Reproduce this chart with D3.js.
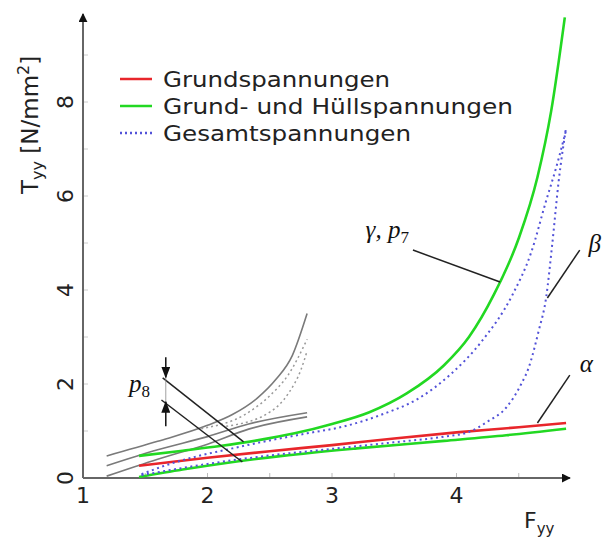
<!DOCTYPE html>
<html>
<head>
<meta charset="utf-8">
<script src="https://cdn.jsdelivr.net/npm/d3@7"></script>
<style>
  body { margin: 0; background: #fff; }
  svg { display: block; }
</style>
</head>
<body>
<svg id="chart" width="603" height="538"></svg>
<script>
// ---- Kurvendaten: Fyy (x) und Tyy in N/mm² (y) ----
// Fall gamma, p7: Grund- und Hüllspannungen
const gammaHuellX = [1.45, 1.8, 2.1, 2.4, 2.7, 3.0, 3.3, 3.6, 3.9, 4.1, 4.3, 4.5, 4.65, 4.76, 4.87];
const gammaHuellY = [0.47, 0.58, 0.68, 0.8, 0.95, 1.15, 1.4, 1.8, 2.4, 3.0, 3.9, 5.1, 6.4, 7.8, 9.8];
// Fall gamma: Gesamtspannungen
const gammaGesamtX = [1.47, 1.7, 1.9, 2.2, 2.5, 2.8, 3.1, 3.4, 3.7, 3.95, 4.2, 4.45, 4.6, 4.72, 4.8, 4.88];
const gammaGesamtY = [0.08, 0.3, 0.45, 0.63, 0.8, 0.95, 1.1, 1.35, 1.7, 2.2, 2.9, 3.9, 4.8, 5.9, 6.6, 7.4];
// Fall alpha: Grundspannungen
const alphaGrundX = [1.45, 2.0, 2.5, 3.0, 3.5, 4.0, 4.5, 4.88];
const alphaGrundY = [0.26, 0.43, 0.57, 0.7, 0.84, 0.97, 1.08, 1.17];
// Fall alpha: Grund- und Hüllspannungen
const alphaHuellX = [1.45, 1.8, 2.15, 2.6, 3.2, 3.9, 4.4, 4.88];
const alphaHuellY = [0.02, 0.18, 0.32, 0.47, 0.63, 0.79, 0.91, 1.05];
// Fall beta: Gesamtspannungen
const betaGesamtX = [1.47, 2.0, 2.5, 3.0, 3.5, 3.9, 4.1, 4.25, 4.4, 4.52, 4.58, 4.66, 4.72, 4.77, 4.82, 4.88];
const betaGesamtY = [0.06, 0.3, 0.48, 0.62, 0.76, 0.88, 0.98, 1.2, 1.5, 2.0, 2.35, 3.13, 3.84, 5.0, 6.3, 7.45];
// Fall p8 (grau)
const p8ObenX = [1.19, 1.6, 2.0, 2.2, 2.4, 2.55, 2.68, 2.8];
const p8ObenY = [0.47, 0.78, 1.12, 1.35, 1.7, 2.1, 2.6, 3.5];
const p8MitteX = [1.19, 1.6, 2.0, 2.33, 2.8];
const p8MitteY = [0.26, 0.6, 0.88, 1.15, 1.39];
const p8UntenX = [1.19, 1.6, 2.0, 2.33, 2.8];
const p8UntenY = [0.04, 0.4, 0.72, 1.04, 1.3];
const p8Gesamt1X = [1.95, 2.3, 2.5, 2.65, 2.8];
const p8Gesamt1Y = [1.05, 1.35, 1.75, 2.2, 2.95];
const p8Gesamt2X = [2.15, 2.5, 2.65, 2.75, 2.8];
const p8Gesamt2Y = [1.1, 1.4, 1.8, 2.3, 2.7];

// Achsenbeschriftung
const xTicks = [1, 2, 3, 4];
const yTicks = [0, 2, 4, 6, 8];
const legendLabels = ["Grundspannungen", "Grund- und Hüllspannungen", "Gesamtspannungen"];

const zip = (xs, ys) => xs.map((x, i) => [x, ys[i]]);

const svg = d3.select("#chart");
const x = d3.scaleLinear().domain([1, 4]).range([83, 456.5]);
const y = d3.scaleLinear().domain([0, 8]).range([478, 102]);

const colRed = "#e8262b", colGreen = "#22d822", colBlue = "#5252d8", colGray = "#7a7a7a";
const sans = "'DejaVu Sans', Verdana, sans-serif";
const serif = "'Liberation Serif', 'DejaVu Serif', serif";

const line = d3.line().x(d => x(d[0])).y(d => y(d[1])).curve(d3.curveMonotoneX);

// ---- Achsen ----
const axisCol = "#666";
svg.append("defs").html(
  '<marker id="arr" viewBox="0 0 10 10" refX="9" refY="5" markerWidth="12" markerHeight="9" orient="auto" markerUnits="userSpaceOnUse" preserveAspectRatio="none">' +
  '<path d="M0,0 L10,5 L0,10 Z" fill="#111"/></marker>' +
  '<marker id="arrS" viewBox="0 0 10 10" refX="9" refY="5" markerWidth="9" markerHeight="9" orient="auto" markerUnits="userSpaceOnUse">' +
  '<path d="M0,0 L10,5 L0,10 Z" fill="#111"/></marker>');

// Hilfsstriche (nach innen)
const xMinor = d3.range(1.5, 5, 0.5);
svg.append("g").selectAll("line").data(xMinor).join("line")
  .attr("x1", d => x(d)).attr("x2", d => x(d))
  .attr("y1", y(0)).attr("y2", y(0) - 5)
  .attr("stroke", "#bbb").attr("stroke-width", 1);
const yMinor = d3.range(1, 10, 1);
svg.append("g").selectAll("line").data(yMinor).join("line")
  .attr("x1", x(1)).attr("x2", x(1) + 5)
  .attr("y1", d => y(d)).attr("y2", d => y(d))
  .attr("stroke", "#ccc").attr("stroke-width", 1);

svg.append("line").attr("x1", x(1)).attr("y1", y(0)).attr("x2", 570).attr("y2", y(0))
  .attr("stroke", axisCol).attr("stroke-width", 2).attr("marker-end", "url(#arrS)");
svg.append("line").attr("x1", x(1)).attr("y1", y(0)).attr("x2", x(1)).attr("y2", 14)
  .attr("stroke", axisCol).attr("stroke-width", 2).attr("marker-end", "url(#arrS)");

// Ticklabels
svg.append("g").selectAll("text").data(xTicks).join("text")
  .attr("x", d => x(d)).attr("y", 503)
  .attr("text-anchor", "middle").attr("font-family", sans).attr("font-size", 22)
  .attr("fill", "#222").text(d => d);
svg.append("g").selectAll("text").data(yTicks).join("text")
  .attr("transform", d => `translate(73,${y(d)}) rotate(-90)`)
  .attr("text-anchor", "middle").attr("font-family", sans).attr("font-size", 22)
  .attr("fill", "#222").text(d => d);

// Achsentitel
const yt = svg.append("text").attr("transform", "translate(38,194) rotate(-90)")
  .attr("font-family", sans).attr("font-size", 23).attr("fill", "#222");
yt.append("tspan").text("T");
yt.append("tspan").attr("font-size", 16).attr("dy", 5).text("yy");
yt.append("tspan").attr("dy", -5).text(" [N/mm");
yt.append("tspan").attr("font-size", 16).attr("dy", -9).text("2");
yt.append("tspan").attr("dy", 9).text("]");

const xt = svg.append("text").attr("x", 524).attr("y", 528)
  .attr("font-family", sans).attr("font-size", 22).attr("fill", "#222");
xt.append("tspan").text("F");
xt.append("tspan").attr("font-size", 15).attr("dy", 6).text("yy");

// ---- Kurven p8 (grau) ----
[[p8ObenX, p8ObenY], [p8MitteX, p8MitteY], [p8UntenX, p8UntenY]].forEach(([xs, ys]) => {
  svg.append("path").datum(zip(xs, ys)).attr("d", line)
    .attr("fill", "none").attr("stroke", colGray).attr("stroke-width", 1.6);
});
[[p8Gesamt1X, p8Gesamt1Y], [p8Gesamt2X, p8Gesamt2Y]].forEach(([xs, ys]) => {
  svg.append("path").datum(zip(xs, ys)).attr("d", line)
    .attr("fill", "none").attr("stroke", "#9a9a9a").attr("stroke-width", 1.5)
    .attr("stroke-dasharray", "2,3");
});

// ---- Hauptkurven ----
const solid = [
  [alphaHuellX, alphaHuellY, colGreen],
  [alphaGrundX, alphaGrundY, colRed],
  [gammaHuellX, gammaHuellY, colGreen]
];
solid.forEach(([xs, ys, c]) => {
  svg.append("path").datum(zip(xs, ys)).attr("d", line)
    .attr("fill", "none").attr("stroke", c).attr("stroke-width", 2.6);
});
[[gammaGesamtX, gammaGesamtY], [betaGesamtX, betaGesamtY]].forEach(([xs, ys]) => {
  svg.append("path").datum(zip(xs, ys)).attr("d", line)
    .attr("fill", "none").attr("stroke", colBlue).attr("stroke-width", 2)
    .attr("stroke-dasharray", "2,3.5");
});

// ---- Legende ----
const legendColors = [colRed, colGreen, colBlue];
const legendDash = [null, null, "2,3"];
const legendWidths = [227, 350, 248];
const lg = svg.append("g");
legendLabels.forEach((t, i) => {
  const ly = 79 + i * 27;
  lg.append("line").attr("x1", 120).attr("x2", 152).attr("y1", ly).attr("y2", ly)
    .attr("stroke", legendColors[i]).attr("stroke-width", 2.5)
    .attr("stroke-dasharray", legendDash[i]);
  lg.append("text").attr("x", 163).attr("y", ly + 7.5)
    .attr("font-family", sans).attr("font-size", 22).attr("fill", "#222")
    .attr("textLength", legendWidths[i]).attr("lengthAdjust", "spacingAndGlyphs")
    .text(t);
});

// ---- Beschriftungen mit Hinweislinien ----
const lead = (x1, y1, x2, y2) => svg.append("line")
  .attr("x1", x(x1)).attr("y1", y(y1)).attr("x2", x(x2)).attr("y2", y(y2))
  .attr("stroke", "#222").attr("stroke-width", 1.5);

lead(3.65, 4.85, 4.35, 4.17);   // gamma, p7
lead(4.99, 4.85, 4.73, 3.83);   // beta
lead(4.91, 2.19, 4.65, 1.17);   // alpha
lead(1.64, 2.13, 2.29, 0.77);   // p8 oben
lead(1.63, 1.66, 2.28, 0.34);   // p8 unten

const math = (xv, yv, parts) => {
  const t = svg.append("text").attr("x", x(xv)).attr("y", y(yv))
    .attr("font-family", serif).attr("font-size", 25).attr("font-style", "italic").attr("fill", "#111");
  parts.forEach(p => {
    const s = t.append("tspan").text(p.t);
    if (p.sub) s.attr("font-size", 17).attr("font-style", "normal").attr("dy", 5);
  });
  return t;
};
math(3.27, 5.1, [{t: "γ"}, {t: ", "}, {t: "p"}, {t: "7", sub: true}]);
math(5.06, 4.8, [{t: "β"}]);
math(4.99, 2.25, [{t: "α"}]);
math(1.37, 1.82, [{t: "p"}, {t: "8", sub: true}]);

// Massangabe p8 (Doppelpfeil)
const xa = x(1.665);
svg.append("line").attr("x1", xa).attr("x2", xa).attr("y1", y(2.57)).attr("y2", y(2.14))
  .attr("stroke", "#111").attr("stroke-width", 1.5).attr("marker-end", "url(#arr)");
svg.append("line").attr("x1", xa).attr("x2", xa).attr("y1", y(1.1)).attr("y2", y(1.62))
  .attr("stroke", "#111").attr("stroke-width", 1.5).attr("marker-end", "url(#arr)");
svg.append("line").attr("x1", xa).attr("x2", xa).attr("y1", y(2.14)).attr("y2", y(1.62))
  .attr("stroke", "#888").attr("stroke-width", 0.8);
</script>
</body>
</html>
